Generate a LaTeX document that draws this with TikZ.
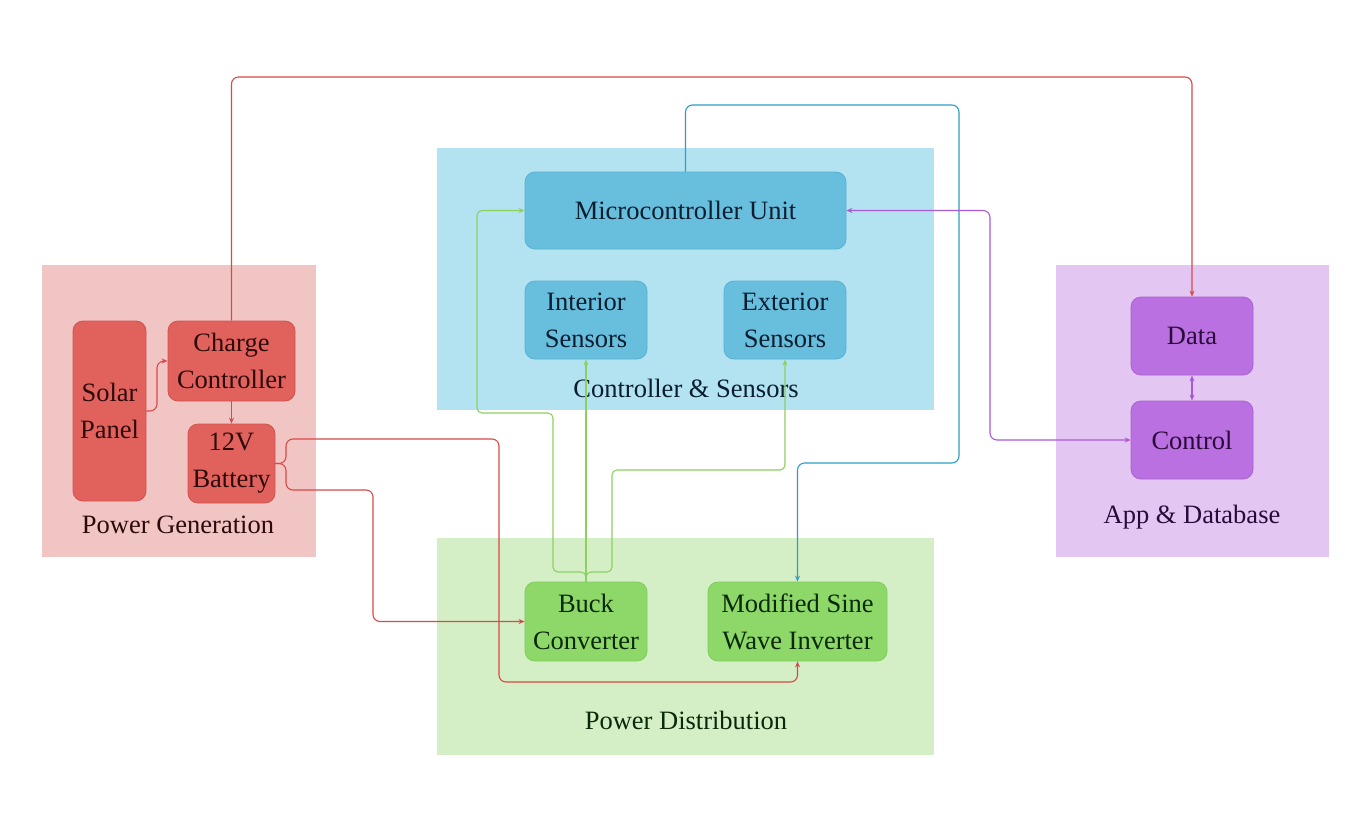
\documentclass[tikz,border=0pt]{standalone}
\usepackage{fontspec}
\setmainfont{Liberation Serif}
\usetikzlibrary{arrows.meta}
\definecolor{pgbg}{RGB}{242,197,197}
\definecolor{pgbox}{RGB}{225,98,92}
\definecolor{pgbd}{RGB}{208,82,78}
\definecolor{pgtx}{RGB}{45,10,10}
\definecolor{csbg}{RGB}{179,227,241}
\definecolor{csbox}{RGB}{104,190,221}
\definecolor{csbd}{RGB}{88,176,211}
\definecolor{cstx}{RGB}{10,30,48}
\definecolor{adbg}{RGB}{227,198,241}
\definecolor{adbox}{RGB}{186,112,224}
\definecolor{adbd}{RGB}{168,96,208}
\definecolor{adtx}{RGB}{42,10,58}
\definecolor{pdbg}{RGB}{212,238,198}
\definecolor{pdbox}{RGB}{142,216,106}
\definecolor{pdbd}{RGB}{128,204,92}
\definecolor{pdtx}{RGB}{10,40,10}
\definecolor{lred}{RGB}{216,74,72}
\definecolor{lblue}{RGB}{43,159,198}
\definecolor{lgreen}{RGB}{142,208,96}
\definecolor{lpurple}{RGB}{168,88,216}
\begin{document}
\begin{tikzpicture}[x=1pt,y=-1pt,
  box/.style={rounded corners=10pt, line width=0.8pt, align=center, inner sep=0pt,
    font=\fontsize{26.5}{37}\selectfont},
  redbox/.style={box, fill=pgbox, draw=pgbd, text=pgtx},
  bluebox/.style={box, fill=csbox, draw=csbd, text=cstx},
  purbox/.style={box, fill=adbox, draw=adbd, text=adtx},
  grnbox/.style={box, fill=pdbox, draw=pdbd, text=pdtx},
  grouplabel/.style={font=\fontsize{26.5}{30}\selectfont, inner sep=0pt},
  conn/.style={line width=1.1pt, rounded corners=7pt, -{Stealth[length=6pt,width=5pt]}},
  redl/.style={conn, draw=lred},
  bluel/.style={conn, draw=lblue},
  grnl/.style={conn, draw=lgreen},
  purl/.style={conn, draw=lpurple}
]
\useasboundingbox (0,0) rectangle (1361,828);
\fill[white] (0,0) rectangle (1361,828);

% groups
\fill[pgbg] (42,265) rectangle (316,557);
\fill[csbg] (437,148) rectangle (934,410);
\fill[adbg] (1056,265) rectangle (1329,557);
\fill[pdbg] (437,538) rectangle (934,755);

\node[grouplabel, text=pgtx] (pglab) at (178,525) {Power Generation};
\node[grouplabel, text=cstx] (cslab) at (686,388) {Controller \& Sensors};
\node[grouplabel, text=adtx] (adlab) at (1192,517) {App \& Database};
\node[grouplabel, text=pdtx] (pdlab) at (686,720) {Power Distribution};

% boxes
\node[redbox, minimum width=73pt, minimum height=180pt] (solar) at (109.5,411) {Solar\\Panel};
\node[redbox, minimum width=127pt, minimum height=80pt] (charge) at (231.5,361) {Charge\\Controller};
\node[redbox, minimum width=87pt, minimum height=79pt] (battery) at (231.5,463.5) {12V\\Battery};

\node[bluebox, minimum width=321pt, minimum height=77pt] (mcu) at (685.5,210.5) {Microcontroller Unit};
\node[bluebox, minimum width=122pt, minimum height=78pt] (interior) at (586,320) {Interior\\Sensors};
\node[bluebox, minimum width=122pt, minimum height=78pt] (exterior) at (785,320) {Exterior\\Sensors};

\node[purbox, minimum width=122pt, minimum height=78pt] (data) at (1192,336) {Data};
\node[purbox, minimum width=122pt, minimum height=78pt] (control) at (1192,440) {Control};

\node[grnbox, minimum width=122pt, minimum height=79pt] (buck) at (586,621.5) {Buck\\Converter};
\node[grnbox, minimum width=179pt, minimum height=79pt] (inverter) at (797.5,621.5) {Modified Sine\\Wave Inverter};

% waypoints
\coordinate (toprow) at (0,77);
\coordinate (bup) at (959,105);
\coordinate (bdn) at (959,463);
\coordinate (bsplit) at (286,463.5);
\coordinate (purx) at (990,0);

% red connectors
\draw[redl] (solar.east) -- (157,411) |- (charge.west);
\draw[redl] (charge.south) -- (battery.north);
\draw[redl] (charge.north) -- (charge.north |- toprow) -| (data.north);
\draw[redl] (battery.east) -- (bsplit) |- (499,439) -- (499,682) -| (inverter.south);
\draw[redl] (battery.east) -- (bsplit) |- (373,490) |- (buck.west);

% blue connector
\draw[bluel] (mcu.north) |- (bup) -- (bdn) -| (inverter.north);

% green connectors
\draw[grnl] (buck.north) -- (interior.south);
\draw[grnl, rounded corners=5pt] (buck.north) |- (553,572) |- (477,413) |- (mcu.west);
\draw[grnl, rounded corners=5pt] (buck.north) |- (612,572) |- (785,470) -- (exterior.south);

% purple connectors
\draw[purl, {Stealth[length=6pt,width=5pt]}-{Stealth[length=6pt,width=5pt]}] (mcu.east) -| (purx |- control.west) -- (control.west);
\draw[purl, {Stealth[length=6pt,width=5pt]}-{Stealth[length=6pt,width=5pt]}] (data.south) -- (control.north);
\end{tikzpicture}
\end{document}
